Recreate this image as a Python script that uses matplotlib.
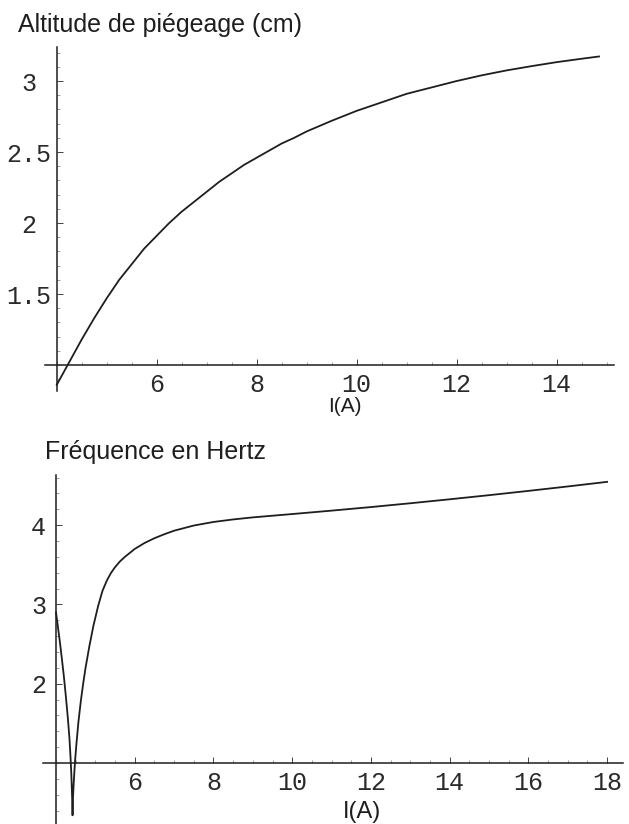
import numpy as np
import matplotlib
matplotlib.use("Agg")
import matplotlib.pyplot as plt
from matplotlib.ticker import MultipleLocator

# altitude de piégeage en fonction du courant
courant_alt = [4.0, 4.25, 4.5, 4.75, 5.0, 5.25, 5.5, 5.75, 6.0, 6.25, 6.5, 6.75,
               7.0, 7.25, 7.5, 7.75, 8.0, 8.25, 8.5, 8.75, 9.0, 9.5, 10.0, 10.5,
               11.0, 11.5, 12.0, 12.5, 13.0, 13.5, 14.0, 14.5, 14.85]
altitude = [0.86, 1.02, 1.18, 1.33, 1.47, 1.60, 1.71, 1.82, 1.91, 2.00, 2.08, 2.15,
            2.22, 2.29, 2.35, 2.41, 2.46, 2.51, 2.56, 2.60, 2.645, 2.72, 2.79, 2.85,
            2.91, 2.955, 3.00, 3.04, 3.075, 3.105, 3.133, 3.157, 3.173]

# fréquence d'oscillation en fonction du courant
courant_freq = [4.0, 4.05, 4.1, 4.15, 4.2, 4.25, 4.3, 4.34, 4.37, 4.39, 4.41, 4.42,
                4.43, 4.45, 4.48, 4.52, 4.57, 4.63, 4.69, 4.75, 4.85, 4.95, 5.07,
                5.18, 5.29, 5.4, 5.5, 5.62, 5.75, 6.0, 6.25, 6.5, 6.75, 7.0, 7.5, 8.0,
                8.5, 9.0, 10.0, 11.0, 12.0, 13.0, 14.0, 15.0, 16.0, 17.0, 18.0]
frequence = [2.90, 2.71, 2.52, 2.31, 2.09, 1.84, 1.57, 1.32, 1.06, 0.85, 0.55, 0.34,
             0.55, 0.75, 1.00, 1.25, 1.52, 1.78, 2.00, 2.20, 2.48, 2.73, 2.98,
             3.17, 3.30, 3.40, 3.47, 3.54, 3.60, 3.70, 3.775, 3.835, 3.885, 3.93, 3.995, 4.04,
             4.072, 4.098, 4.14, 4.183, 4.228, 4.276, 4.326, 4.378, 4.432, 4.488, 4.546]

ticks_alt_x = [6, 8, 10, 12, 14]
ticks_alt_y = [1.5, 2, 2.5, 3]
labels_alt_y = ["1.5", "2", "2.5", "3"]
ticks_freq_x = [6, 8, 10, 12, 14, 16, 18]
ticks_freq_y = [2, 3, 4]
labels_freq_y = ["2", "3", "4"]

mono = "Liberation Mono"
sans = "Liberation Sans"
noir = "#1e1e1e"


def style_axes(ax, ypad, xminor, yminor):
    # axes à la Mathematica : se croisent en (4, 1)
    for s in ["top", "right"]:
        ax.spines[s].set_visible(False)
    ax.spines["left"].set_position(("data", 4))
    ax.spines["bottom"].set_position(("data", 1))
    for s in ["left", "bottom"]:
        ax.spines[s].set_linewidth(1.1)
        ax.spines[s].set_color(noir)
    ax.xaxis.set_minor_locator(MultipleLocator(xminor))
    ax.yaxis.set_minor_locator(MultipleLocator(yminor))
    ax.tick_params(which="major", direction="in", length=4.5, width=0.7, color="#444444")
    ax.tick_params(which="minor", direction="in", length=2.5, width=0.5, color="#777777")
    ax.tick_params(axis="x", which="major", pad=6)
    ax.tick_params(axis="y", which="major", pad=ypad)
    for lab in ax.get_xticklabels() + ax.get_yticklabels():
        lab.set_fontfamily(mono)
        lab.set_fontsize(18)
        lab.set_color("#2a2a2a")
    for lab in ax.get_yticklabels():
        lab.set_ha("center")
    ax.patch.set_visible(False)


fig = plt.figure(figsize=(6.29, 8.24), dpi=100)

ax1 = fig.add_axes([0.0719, 0.526, 0.9043, 0.417])
ax1.plot(courant_alt, altitude, color=noir, lw=1.3)
ax1.set_xlim(3.77, 15.15)
ax1.set_ylim(0.82, 3.24)
ax1.set_xticks(ticks_alt_x)
ax1.set_xticklabels([str(t) for t in ticks_alt_x])
ax1.set_yticks(ticks_alt_y)
ax1.set_yticklabels(labels_alt_y)
style_axes(ax1, 20, 0.5, 0.1)

ax2 = fig.add_axes([0.0684, 0.0, 0.9218, 0.4233])
ax2.plot(courant_freq, frequence, color=noir, lw=1.3)
ax2.set_xlim(3.67, 18.4)
ax2.set_ylim(0.23, 4.63)
ax2.set_xticks(ticks_freq_x)
ax2.set_xticklabels([str(t) for t in ticks_freq_x])
ax2.set_yticks(ticks_freq_y)
ax2.set_yticklabels(labels_freq_y)
style_axes(ax2, 12.5, 0.5, 0.2)

H = 824.0
fig.text(18 / 629, 1 - 32 / H, "Altitude de piégeage (cm)", family=sans, fontsize=18,
         color=noir, va="baseline", ha="left")
fig.text(345 / 629, 1 - 412 / H, "I(A)", family=sans, fontsize=15,
         color=noir, va="baseline", ha="center")
fig.text(45 / 629, 1 - 459 / H, "Fréquence en Hertz", family=sans, fontsize=18,
         color=noir, va="baseline", ha="left")
fig.text(362 / 629, 1 - 818 / H, "I(A)", family=sans, fontsize=17,
         color=noir, va="baseline", ha="center")

fig.savefig("out.png", dpi=100, facecolor="white")
